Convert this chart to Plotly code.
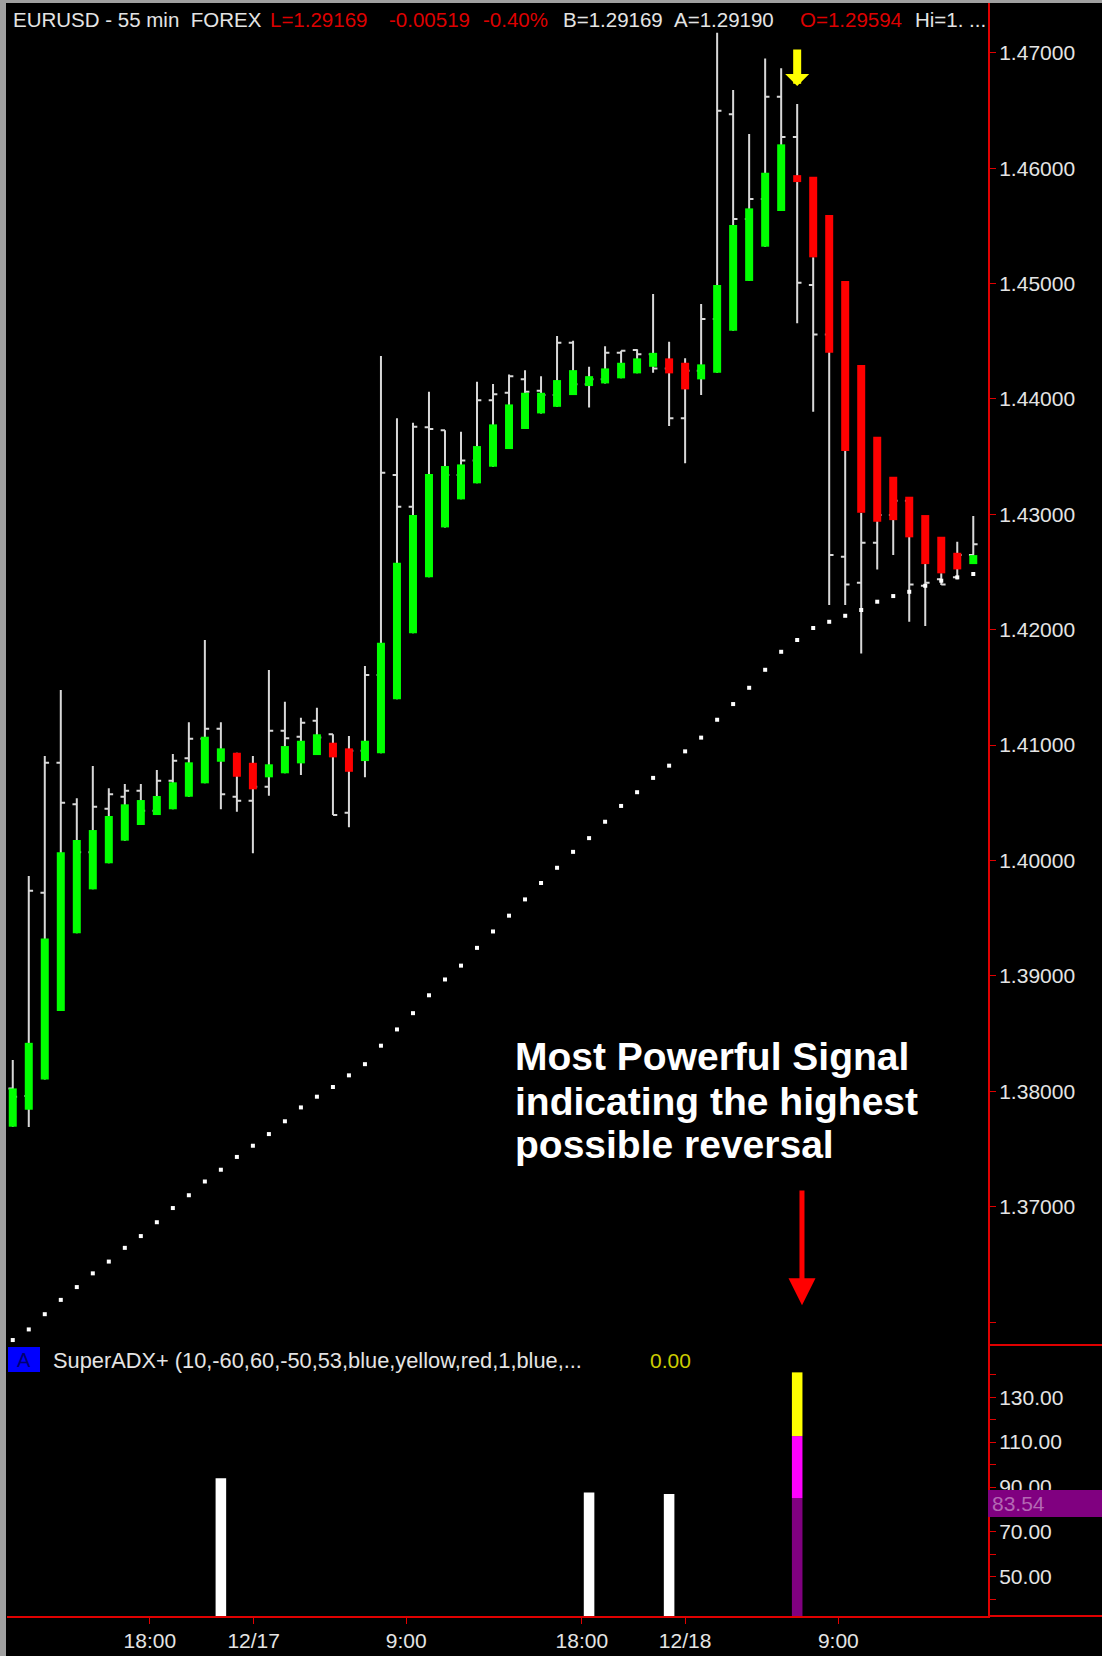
import plotly.graph_objects as go

# ---------------- data ----------------
bar_index = list(range(61))

# coloured candle bodies (open -> close of the smoothed candle)
body_open = [1.37693, 1.37840, 1.38103, 1.38695, 1.39369, 1.39750, 1.39976, 1.40172, 1.40308, 1.40394,
             1.40444, 1.40553, 1.40669, 1.40856, 1.40934, 1.40847, 1.40721, 1.40756, 1.40842, 1.40914,
             1.41021, 1.40972, 1.40862, 1.40929, 1.41397, 1.41969, 1.42454, 1.42887, 1.43130, 1.43269,
             1.43413, 1.43566, 1.43740, 1.43875, 1.43932, 1.44034, 1.44112, 1.44135, 1.44179, 1.44222,
             1.44279, 1.44352, 1.44314, 1.44170, 1.44227, 1.44592, 1.45023, 1.45320, 1.45629, 1.45940,
             1.45926, 1.45594, 1.45023, 1.44294, 1.43673, 1.43326, 1.43153, 1.42994, 1.42806, 1.42667,
             1.42569]
body_close = [1.38025, 1.38420, 1.39325, 1.40071, 1.40178, 1.40264, 1.40386, 1.40487, 1.40524, 1.40559,
              1.40678, 1.40851, 1.41073, 1.40972, 1.40726, 1.40617, 1.40834, 1.40992, 1.41038, 1.41094,
              1.40894, 1.40769, 1.41038, 1.41887, 1.42581, 1.42994, 1.43349, 1.43419, 1.43433, 1.43592,
              1.43780, 1.43953, 1.44054, 1.44054, 1.44164, 1.44250, 1.44198, 1.44265, 1.44314, 1.44352,
              1.44400, 1.44222, 1.44083, 1.44300, 1.44988, 1.45508, 1.45652, 1.45961, 1.46207, 1.45880,
              1.45228, 1.44400, 1.43549, 1.43014, 1.42936, 1.42950, 1.42801, 1.42569, 1.42489, 1.42523,
              1.42647]

# white OHLC bars
bar_open = [1.38025, 1.37960, 1.39720, 1.40847, 1.40487, 1.40071, 1.40449, 1.40553, 1.40605, 1.40431,
            1.40691, 1.40886, 1.41055, 1.41142, 1.40553, 1.40518, 1.40640, 1.41125, 1.41073, 1.41212,
            1.41094, 1.40414, 1.40951, 1.41608, 1.43341, 1.43066, 1.43754, 1.43730, 1.43341, 1.43466,
            1.43990, 1.44054, 1.44172, 1.44071, 1.44034, 1.44487, 1.44127, 1.44172, 1.44400, 1.44424,
            1.44387, 1.44265, 1.43832, 1.44244, 1.44693, 1.46467, 1.45560, 1.45733, 1.46620, 1.46270,
            1.44988, 1.44560, 1.42633, 1.42407, 1.42754, 1.42994, 1.43118, 1.42381, 1.42437, 1.42454,
            1.42647]
bar_high = [1.38271, 1.39865, 1.40906, 1.41478, 1.40539, 1.40819, 1.40626, 1.40663, 1.40663, 1.40784,
            1.40923, 1.41198, 1.41911, 1.41198, 1.40934, 1.40906, 1.41651, 1.41376, 1.41237, 1.41324,
            1.41094, 1.41079, 1.41686, 1.44372, 1.43832, 1.43794, 1.44062, 1.43730, 1.43716, 1.44149,
            1.44129, 1.44213, 1.44250, 1.44198, 1.44545, 1.44504, 1.44279, 1.44458, 1.44418, 1.44430,
            1.44910, 1.44496, 1.44352, 1.44823, 1.47174, 1.46678, 1.46296, 1.46952, 1.46866, 1.46556,
            1.45228, 1.44560, 1.43549, 1.43014, 1.43000, 1.43118, 1.43118, 1.42569, 1.42489, 1.42763,
            1.42985]
bar_low = [1.37693, 1.37690, 1.38103, 1.38695, 1.39369, 1.39750, 1.39976, 1.40172, 1.40308, 1.40394,
           1.40444, 1.40553, 1.40669, 1.40444, 1.40423, 1.40062, 1.40561, 1.40756, 1.40741, 1.40914,
           1.40394, 1.40288, 1.40721, 1.40929, 1.41397, 1.41969, 1.42454, 1.42887, 1.43130, 1.43269,
           1.43413, 1.43566, 1.43740, 1.43875, 1.43932, 1.44034, 1.43927, 1.44135, 1.44179, 1.44222,
           1.44227, 1.43765, 1.43442, 1.44034, 1.44227, 1.44592, 1.45023, 1.45320, 1.45629, 1.44656,
           1.43889, 1.42214, 1.42214, 1.41795, 1.42523, 1.42647, 1.42069, 1.42032, 1.42387, 1.42437,
           1.42569]
bar_close = [1.37953, 1.39738, 1.40847, 1.40501, 1.40071, 1.40466, 1.40574, 1.40605, 1.40431, 1.40691,
             1.40865, 1.41055, 1.41142, 1.40574, 1.40518, 1.40640, 1.41125, 1.41059, 1.41194, 1.41067,
             1.40394, 1.40951, 1.41608, 1.43361, 1.43066, 1.43759, 1.43739, 1.43341, 1.43466, 1.43990,
             1.44042, 1.44198, 1.44062, 1.44034, 1.44487, 1.44127, 1.44172, 1.44400, 1.44418, 1.44387,
             1.44265, 1.43832, 1.44244, 1.44693, 1.46498, 1.45560, 1.45733, 1.46620, 1.46270, 1.45008,
             1.44560, 1.42647, 1.42393, 1.42754, 1.42994, 1.43118, 1.42393, 1.42407, 1.42393, 1.42647,
             1.42740]

# dotted trailing line
trail_dots = [1.35844, 1.35936, 1.36068, 1.36192, 1.36303, 1.36422, 1.36524, 1.36643, 1.36745, 1.36865,
              1.36988, 1.37099, 1.37218, 1.37320, 1.37431, 1.37528, 1.37629, 1.37740, 1.37860, 1.37953,
              1.38037, 1.38138, 1.38235, 1.38395, 1.38536, 1.38677, 1.38832, 1.38969, 1.39089, 1.39243,
              1.39385, 1.39522, 1.39663, 1.39805, 1.39937, 1.40075, 1.40194, 1.40336, 1.40473, 1.40592,
              1.40716, 1.40822, 1.40946, 1.41065, 1.41220, 1.41356, 1.41497, 1.41653, 1.41809, 1.41911,
              1.42015, 1.42069, 1.42121, 1.42171, 1.42243, 1.42292, 1.42329, 1.42381, 1.42425, 1.42454,
              1.42483]

# SuperADX+ panel
adx_white_idx = [13, 36, 41]
adx_white_val = [93.9, 87.6, 86.9]
signal_idx = 49
signal_purple_top = 85.0
signal_magenta_top = 112.7
signal_yellow_top = 141.1
adx_last_label = "83.54"

# axes
time_tick_pos = [8.56, 15.05, 24.58, 35.55, 42.0, 51.57]
time_tick_text = ["18:00", "12/17", "9:00", "18:00", "12/18", "9:00"]
price_tick_vals = [1.36, 1.37, 1.38, 1.39, 1.40, 1.41, 1.42, 1.43, 1.44, 1.45, 1.46, 1.47]
price_tick_text = ["", "1.37000", "1.38000", "1.39000", "1.40000", "1.41000", "1.42000",
                   "1.43000", "1.44000", "1.45000", "1.46000", "1.47000"]
adx_tick_vals = [40, 50, 60, 70, 80, 90, 100, 110, 120, 130, 140]
adx_tick_text = ["", "50.00", "", "70.00", "", "90.00", "", "110.00", "", "130.00", ""]

# ---------------- layout helpers ----------------
W, H = 1102, 1656
L, R, T, B = 7, 988, 3, 1616
PRICE_RANGE = [1.35801, 1.47432]
ADX_RANGE = [32.5, 153.3]
SPLIT = (B - 1345) / (B - T)


def px(x):
    return (x - L) / (R - L)


def py(y):
    return (B - y) / (B - T)


AXIS_RED = "#E00000"
TXT = "#E4E4E4"
FONT = "Liberation Sans, Arial, sans-serif"

fig = go.Figure()

# white OHLC bars (behind bodies)
fig.add_trace(go.Ohlc(
    x=bar_index, open=bar_open, high=bar_high, low=bar_low, close=bar_close,
    increasing=dict(line=dict(color="#D8D8D8", width=2)),
    decreasing=dict(line=dict(color="#D8D8D8", width=2)),
    tickwidth=0.27, xaxis="x", yaxis="y", hoverinfo="skip", showlegend=False))

# coloured bodies
for want_up, col in [(True, "#00FF00"), (False, "#FF0000")]:
    xs, ys = [], []
    for i, o, c in zip(bar_index, body_open, body_close):
        if (c >= o) == want_up:
            xs += [i, i, None]
            ys += [o, c, None]
    fig.add_trace(go.Scatter(x=xs, y=ys, mode="lines", line=dict(color=col, width=8),
                             xaxis="x", yaxis="y", hoverinfo="skip", showlegend=False))

# dotted line
fig.add_trace(go.Scatter(x=bar_index, y=trail_dots, mode="markers",
                         marker=dict(symbol="square", size=4, color="white", line=dict(width=0)),
                         xaxis="x", yaxis="y", hoverinfo="skip", showlegend=False))

# ADX panel bars
base = ADX_RANGE[0]
fig.add_trace(go.Bar(x=adx_white_idx, y=[v - base for v in adx_white_val], base=base, width=0.66,
                     marker=dict(color="white", line=dict(width=0)), xaxis="x", yaxis="y2",
                     hoverinfo="skip", showlegend=False))
segs = [(base, signal_purple_top, "#800080"),
        (signal_purple_top, signal_magenta_top, "#FF00FF"),
        (signal_magenta_top, signal_yellow_top, "#FFFF00")]
for lo, hi, col in segs:
    fig.add_trace(go.Bar(x=[signal_idx], y=[hi - lo], base=[lo], width=0.66,
                         marker=dict(color=col, line=dict(width=0)), xaxis="x", yaxis="y2",
                         hoverinfo="skip", showlegend=False))

axis_common = dict(showgrid=False, zeroline=False, showline=True, linecolor=AXIS_RED, linewidth=2,
                   ticks="outside", ticklen=6, tickwidth=1, tickcolor=AXIS_RED, automargin=False,
                   tickfont=dict(family=FONT, size=21, color=TXT), fixedrange=True)

fig.update_layout(
    width=W, height=H,
    margin=dict(l=L, r=W - R, t=T, b=H - B, pad=0),
    paper_bgcolor="black", plot_bgcolor="black",
    barmode="overlay", showlegend=False,
    font=dict(family=FONT, color=TXT),
    xaxis=dict(domain=[0, 1], range=[-0.36, 60.92], anchor="y2",
               tickvals=time_tick_pos, ticktext=time_tick_text, ticklabelstandoff=-1,
               rangeslider=dict(visible=False), **axis_common),
    yaxis=dict(domain=[SPLIT, 1], range=PRICE_RANGE, side="right", anchor="x",
               tickvals=price_tick_vals, ticktext=price_tick_text, ticklabelstandoff=-1, **axis_common),
    yaxis2=dict(domain=[0, SPLIT], range=ADX_RANGE, side="right", anchor="x",
                tickvals=adx_tick_vals, ticktext=adx_tick_text, ticklabelstandoff=-1, **axis_common),
)

shapes = [
    # gray window frame
    dict(type="rect", xref="paper", yref="paper", x0=px(0), x1=px(6), y0=py(H), y1=py(0),
         fillcolor="#A0A0A0", line=dict(width=0), layer="above"),
    dict(type="rect", xref="paper", yref="paper", x0=px(0), x1=px(W), y0=py(3), y1=py(0),
         fillcolor="#A0A0A0", line=dict(width=0), layer="above"),
    # red separators in the axis column
    dict(type="line", xref="paper", yref="paper", x0=1, x1=px(W), y0=py(1345), y1=py(1345),
         line=dict(color=AXIS_RED, width=2), layer="above"),
    dict(type="line", xref="paper", yref="paper", x0=1, x1=px(W), y0=0, y1=0,
         line=dict(color=AXIS_RED, width=2), layer="above"),
    # indicator tag
    dict(type="rect", xref="paper", yref="paper", x0=px(8), x1=px(40), y0=py(1372), y1=py(1347),
         fillcolor="#0000FF", line=dict(width=0), layer="above"),
    # last-value box
    dict(type="rect", xref="paper", yref="paper", x0=1, x1=px(W), y0=py(1517), y1=py(1490),
         fillcolor="#800080", line=dict(width=0), layer="above"),
]
fig.update_layout(shapes=shapes)

ann = []
header = [("EURUSD - 55 min\u00a0\u00a0FOREX", 10.6, TXT),
          ("L=1.29169", 268.4, "#DD0000"),
          ("-0.00519", 386.7, "#DD0000"),
          ("-0.40%", 480.8, "#DD0000"),
          ("B=1.29169", 561, TXT),
          ("A=1.29190", 672, TXT),
          ("O=1.29594", 797.7, "#DD0000"),
          ("Hi=1. ...", 912.9, TXT)]
for txt, x0, col in header:
    ann.append(dict(text=txt, xref="paper", yref="paper", x=px(x0), y=py(20), xanchor="left",
                    yanchor="middle", showarrow=False, font=dict(family=FONT, size=20.5, color=col)))

for txt, yc in [("Most Powerful Signal", 1056.6), ("indicating the highest", 1101), ("possible reversal", 1144.3)]:
    ann.append(dict(text="<b>" + txt + "</b>", xref="paper", yref="paper", x=px(513), y=py(yc),
                    xanchor="left", yanchor="middle", showarrow=False,
                    font=dict(family=FONT, size=39, color="white")))

# arrows
ann.append(dict(text="", x=signal_idx, y=1.46712, ax=signal_idx, ay=1.47042, xref="x", yref="y",
                axref="x", ayref="y", showarrow=True, arrowhead=1, arrowwidth=8, arrowsize=0.5,
                arrowcolor="#FFFF00", standoff=0))
ann.append(dict(text="", x=signal_idx + 0.3, y=1.36145, ax=signal_idx + 0.3, ay=1.37153, xref="x", yref="y",
                axref="x", ayref="y", showarrow=True, arrowhead=2, arrowwidth=5, arrowsize=1.08,
                arrowcolor="#FF0000", standoff=0))

# ADX panel labels
ann.append(dict(text="A", xref="paper", yref="paper", x=px(24), y=py(1360), xanchor="center",
                yanchor="middle", showarrow=False, font=dict(family=FONT, size=20, color="#000070")))
ann.append(dict(text="SuperADX+ (10,-60,60,-50,53,blue,yellow,red,1,blue,...", xref="paper", yref="paper",
                x=px(51), y=py(1360), xanchor="left", yanchor="middle", showarrow=False,
                font=dict(family=FONT, size=21.8, color=TXT)))
ann.append(dict(text="0.00", xref="paper", yref="paper", x=px(648), y=py(1360), xanchor="left",
                yanchor="middle", showarrow=False, font=dict(family=FONT, size=21, color="#CCCC00")))
ann.append(dict(text=adx_last_label, xref="paper", yref="paper", x=px(990), y=py(1503.5), xanchor="left",
                yanchor="middle", showarrow=False, font=dict(family=FONT, size=21, color="#B468B4")))

fig.update_layout(annotations=ann)

fig.write_html("out.html", config={"displayModeBar": False},
               post_script="document.body.style.margin='0px';document.body.style.padding='0px';"
                           "document.body.style.background='black';")
